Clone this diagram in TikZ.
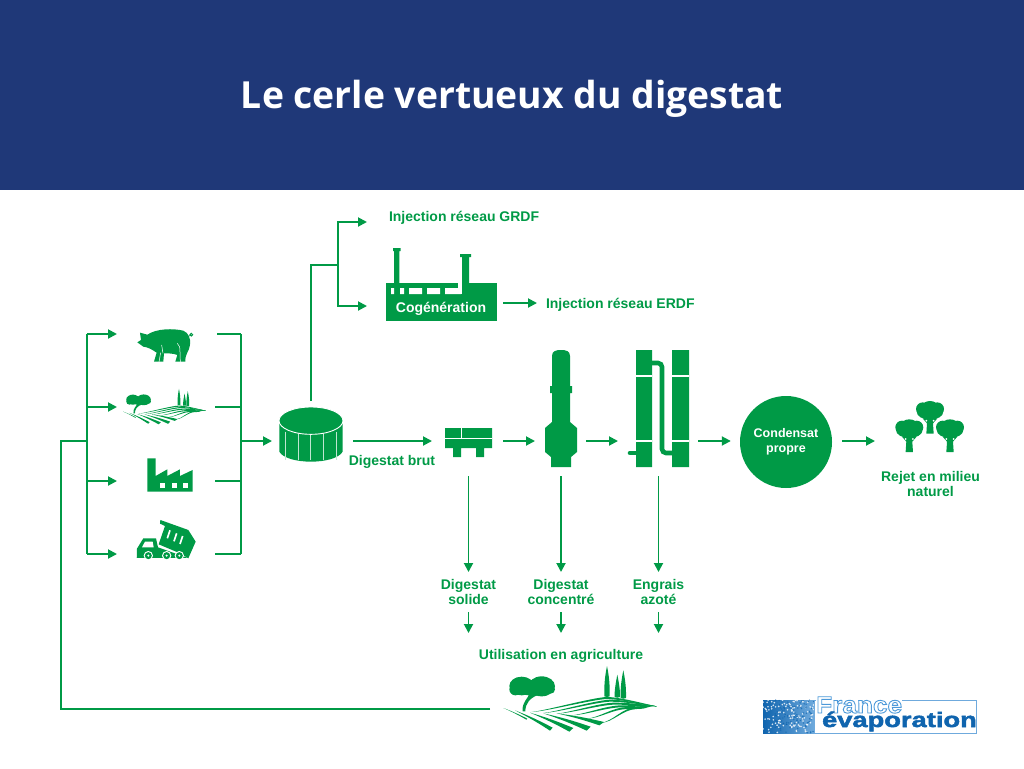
\documentclass[tikz,border=0pt]{standalone}
\usepackage{fontspec}
\setmainfont{Liberation Sans}
\newfontfamily\titlefont{Open Sans}
\newfontfamily\logoheavy[FakeBold=2.5,FakeStretch=1.3]{Liberation Sans Bold}
\newfontfamily\logolight[FakeStretch=1.11]{Liberation Sans Bold}
\usetikzlibrary{arrows.meta,positioning,calc}
\definecolor{digestGreen}{HTML}{009A46}
\definecolor{digestNavy}{HTML}{1F3878}
\definecolor{logoBlue}{HTML}{0F64AE}
\definecolor{logoLight}{HTML}{6FAADD}
\tikzset{
    pics/pigicon/.style={code={
        \fill[digestGreen] (232,97) -- (243,90) -- (240,68) -- (262,74) .. controls (290,55) and (340,55) .. (370,62)
            .. controls (385,68) and (393,85) .. (390,105) .. controls (388,125) and (375,130) .. (376,155)
            -- (346,155) -- (352,135) .. controls (340,130) and (325,130) .. (312,130) -- (310,155) -- (282,155)
            -- (290,128) .. controls (275,118) and (265,112) .. (250,110) -- cycle;
        \draw[white,line width=.5pt] (297,156) -- (302,128) (361,156) -- (360,125) .. controls (362,115) and (358,105) .. (352,100) (305,105) -- (309,130);
        \draw[digestGreen,line width=.8pt] (388,78) -- (394,74) circle[radius=4.5];
    }},
    pics/fieldicon/.style={code={
        \fill[digestGreen] (125,78) ellipse[x radius=37,y radius=28] (185,79) ellipse[x radius=40,y radius=30] (106,88) circle[radius=18] (150,92) ellipse[x radius=30,y radius=14] (212,88) circle[radius=13];
        \fill[digestGreen] (128,154) -- (136,154) .. controls (136,130) and (150,112) .. (178,104) -- (148,100) .. controls (146,115) and (125,125) .. cycle;
        \foreach \cx/\cy/\by in {381/18/109,412/44/111,430/31/114}
            \fill[digestGreen] (\cx,\cy) .. controls (\cx-5,\cy+25) and (\cx-9,\cy+50) .. (\cx-8,\by) .. controls (\cx-4,\by+3) and (\cx+4,\by+3) .. (\cx+8,\by) .. controls (\cx+9,\cy+50) and (\cx+5,\cy+25) .. (\cx,\cy);
        \foreach \sx/\sy/\mx/\my in {155/156/380/111,190/159/390/119,230/161/400/128,275/166/420/136,320/176/440/141,360/189/470/141}
            \fill[digestGreen] (\sx,\sy) .. controls (\sx+40,\sy-4) and (\mx-45,\my+2) .. (\mx,\my) .. controls (\mx+40,\my) and (500,133) .. (530,139)
                .. controls (500,136) and (\mx+40,\my+6) .. (\mx,\my+6) .. controls (\mx-45,\my+8) and (\sx+40,\sy-1) .. (\sx,\sy) -- cycle;
        \fill[digestGreen] (70,144) to[bend left=3] (142,176) -- (139,179) to[bend right=3] (70,144);
        \fill[digestGreen] (105,151) to[bend left=3] (218,203) -- (210,212) to[bend right=3] (105,151);
        \fill[digestGreen] (150,158) to[bend left=3] (280,204) -- (268,215) to[bend right=3] (150,158);
        \fill[digestGreen] (190,160) to[bend left=3] (332,200) -- (320,212) to[bend right=3] (190,160);
        \fill[digestGreen] (230,160) to[bend left=3] (372,186) -- (358,196) to[bend right=3] (230,160);
    }},
    pics/factoryicon/.style={code={
        \fill[digestGreen] (262,445) -- (287,445) -- (287,498) -- (322,478) -- (322,498) -- (360,478) -- (360,498) -- (398,480) -- (398,545) -- (262,545) -- cycle;
        \foreach \wx in {300,335,368}
            \fill[white] (\wx,520) rectangle +(16,15);
    }},
    pics/truckicon/.style={code={
        \fill[digestGreen] (231,740) -- (231,716) -- (250,685) -- (288,685) -- (294,712) -- (384,744) -- (230,744) -- cycle;
        \fill[white] (255,695) -- (278,695) -- (281,712) -- (246,712) -- cycle;
        \fill[digestGreen] (301,630) -- (385,660) -- (407,695) -- (385,745) -- (360,730) -- (296,703) -- (315,648) -- (300,641) -- cycle;
        \foreach \sx/\sy in {330/661,350/670,368/678}
            \draw[white,line width=1.7pt] (\sx,\sy) -- (\sx-8,\sy+24);
        \foreach \wx in {265,320,358}{
            \fill[white] (\wx,737) circle[radius=14];
            \fill[digestGreen] (\wx,737) circle[radius=10.5];
            \fill[white] (\wx,737) circle[radius=3.5];
        }
    }},
    pics/tankicon/.style={code={
        \fill[digestGreen] (658,332) -- (658,425) .. controls (680,465) and (826,465) .. (848,425) -- (848,332) -- cycle;
        \foreach \lx in {676,714,752,790,830}
            \draw[white!75!digestGreen,line width=.9pt] (\lx,365) -- (\lx,450);
        \fill[digestGreen,draw=white,line width=.9pt] (753,332) ellipse[x radius=96,y radius=41];
    }},
    pics/treeicon/.style={code={
        \fill[digestGreen] (-22,-8) circle[radius=20] (22,-8) circle[radius=20] (0,-16) ellipse[x radius=24,y radius=16] (0,0) ellipse[x radius=40,y radius=24];
        \fill[digestGreen] (-11,66) -- (-9,35) -- (-22,20) -- (22,20) -- (9,35) -- (11,66) -- cycle;
        \fill[white] (-11,27) circle[radius=3] (11,27) circle[radius=3];
    }}
}
\begin{document}
\begin{tikzpicture}[x=1pt,y=-1pt,
        pipe/.style={draw=digestGreen, line width=1.9pt},
        flow/.style={pipe, -{Triangle[length=9pt,width=9pt]}},
        spot/.style={inner sep=0pt, outer sep=0pt, minimum height=70pt},
        lbl/.style={text=digestGreen, font=\fontsize{14}{15}\selectfont\bfseries, align=center, inner sep=0pt, outer sep=0pt},
        equip/.style={fill=digestGreen}
    ]
        \useasboundingbox (0,0) rectangle (1024,768);
        \fill[digestNavy] (0,0) rectangle (1024,190);
        \node[text=white, font=\fontsize{37.3}{44}\selectfont\titlefont\bfseries, inner sep=0pt] (title) at (512,98.5) {Le cerle vertueux du digestat};

        % inputs
        \node[spot, minimum width=100pt] (pig) at (167,334) {};
        \node[spot, minimum width=98pt] (farm) at (166,407) {};
        \node[spot, minimum width=98pt] (plant) at (166,481) {};
        \node[spot, minimum width=98pt] (truck) at (166,554) {};
        \pic at (60,310) [scale=.3333] {pigicon};
        \pic at (110.4,385.6) [scale=.18] {fieldicon};
        \pic at (60,310) [scale=.3333] {factoryicon};
        \pic at (60,310) [scale=.3333] {truckicon};
        \coordinate (busl) at (87,441);
        \coordinate (busr) at (241,441);
        \foreach \src in {pig,farm,plant,truck}{
            \draw[flow] (busl |- \src.west) -- (\src.west);
            \draw[pipe] (\src.east) -- (busr |- \src.east);
        }
        \draw[pipe] (busl |- pig.west) -- (busl |- truck.west);
        \draw[pipe] (busr |- pig.east) -- (busr |- truck.east);

        % digester and gas side
        \node[spot, minimum width=81pt] (tank) at (312.5,441) {};
        \pic at (60,310) [scale=.3333] {tankicon};
        \draw[flow] (busr) -- (tank.west);
        \coordinate (tanktop) at (311,401);
        \coordinate (gasbus) at (338,265);
        \node[lbl, anchor=west] (grdf) at (389,218) {Injection réseau GRDF};
        \node[spot, minimum width=136pt, minimum height=20pt] (cogen) at (435,306) {};
        \node[lbl, anchor=west] (erdf) at (546,304.5) {Injection réseau ERDF};
        \coordinate (grdfin) at (367,222);
        \draw[pipe] (tanktop) |- (gasbus);
        \draw[flow] (gasbus) |- (grdfin);
        \draw[flow] (gasbus) |- (cogen.west);
        \fill[equip] (386,283) rectangle (497,321);
        \fill[equip] (394,250) rectangle (399.3,284) (393,248) rectangle (400.7,251);
        \fill[equip] (462,256) rectangle (469,284) (460,254) rectangle (471,257);
        \fill[white] (391,288) rectangle (394,294) (400,288) rectangle (404,294) (409,288) rectangle (422,294) (427,288) rectangle (440,294) (445,288) rectangle (461,294);
        \fill[white] (458,283) rectangle (462,294);
        \node[text=white, font=\fontsize{14}{16}\selectfont\bfseries, inner sep=0pt] (cogenlbl) at (441,309) {Cogénération};
        \coordinate (cogenout) at (503,303);
        \coordinate (erdfin) at (537,303);
        \draw[flow] (cogenout) -- (erdfin);

        % treatment line
        \node[spot, minimum width=71pt] (sep) at (467.5,441) {};
        \node[spot, minimum width=51pt] (evap) at (560.5,441) {};
        \node[spot, minimum width=80pt] (strip) at (658,441) {};
        \node[circle, fill=digestGreen, minimum size=92pt, inner sep=0pt, text=white, align=center, font=\fontsize{12.5}{15}\selectfont\bfseries] (cond) at (786,442) {\raisebox{-3.5pt}{Condensat}\\\raisebox{-3.5pt}{propre}};
        \node[spot, minimum width=100pt] (trees) at (925,441) {};
        \node[lbl, below=30.5pt of trees.center, xshift=5.5pt] (rejet) {Rejet en milieu\\naturel};
        \node[lbl] (brut) at (392,462) {Digestat brut};

        \coordinate (tankout) at (353,441);
        \draw[flow] (tankout) -- (sep.west);
        \draw[flow] (sep.east) -- (evap.west);
        \draw[flow] (evap.east) -- (strip.west);
        \draw[flow] (strip.east) -- ([xshift=-9pt]cond.west |- strip.east);
        \draw[flow] ([xshift=10pt]cond.east |- trees.west) -- (trees.west);

        % separator
        \fill[equip] (445,428) rectangle (492,448) (453,447) rectangle (461,457) (476,447) rectangle (484,457);
        \draw[white,line width=.9pt] (445,438) -- (492,438) (461,428) -- (461,438);
        % evaporator
        \fill[equip] (552,356) .. controls (552,351) and (556,350) .. (561,350) .. controls (566,350) and (570,351) .. (570,356) -- (570,386) -- (572,386) -- (572,393) -- (570,393) -- (570,422) -- (577,428) -- (577,452) -- (571,457) -- (571,467) -- (551,467) -- (551,457) -- (545,452) -- (545,428) -- (552,422) -- (552,393) -- (550,393) -- (550,386) -- (552,386) -- cycle;
        % stripping columns
        \fill[equip] (636,350) rectangle (652,467) (672,350) rectangle (689,467);
        \draw[white,line width=1.8pt] (636,376) -- (652,376) (672,376) -- (689,376) (636,441) -- (652,441) (672,441) -- (689,441);
        \draw[digestGreen,line width=4.6pt,rounded corners=4pt] (652,363) -- (662,363) -- (662,453) -- (672,453);
        \draw[digestGreen,line width=4.6pt,line cap=round] (630,453) -- (636,453);
        % trees
        \pic at (930,411.7) [scale=.3333] {treeicon};
        \pic at (909.3,430) [scale=.3333] {treeicon};
        \pic at (950,430) [scale=.3333] {treeicon};

        % products
        \node[lbl, minimum height=40pt] (solide) at (468.5,592) {Digestat\\solide};
        \node[lbl, minimum height=40pt] (conc) at (561,592) {Digestat\\concentré};
        \node[lbl, minimum height=40pt] (azote) at (658.5,592) {Engrais\\azoté};
        \node[lbl, minimum height=45pt] (agri) at (561,655.5) {Utilisation en agriculture};
        \coordinate (sepout) at (468.5,476);
        \coordinate (evapout) at (561,476);
        \coordinate (stripout) at (658.5,476);
        \draw[flow] (sepout) -- (solide.north);
        \draw[flow] (evapout) -- (conc.north);
        \draw[flow] (stripout) -- (azote.north);
        \draw[flow] (solide.south) -- (solide.south |- agri.north);
        \draw[flow] (conc.south) -- (agri.north);
        \draw[flow] (azote.south) -- (azote.south |- agri.north);
        \pic at (480,660) [scale=.3333] {fieldicon};

        % return to the inputs
        \coordinate (fieldout) at (490,709);
        \coordinate (loopup) at (61,441);
        \draw[pipe] (fieldout) -| (loopup) -- (busl);

        % logo
        \shade[left color=logoBlue, right color=logoLight] (763,700) rectangle (814,733);
        \pgfmathsetseed{11}
        \foreach \d in {1,...,110}{
            \pgfmathsetmacro{\dx}{763+51*rnd}
            \pgfmathsetmacro{\dy}{700+33*rnd}
            \fill[white, opacity=.8] (\dx,\dy) circle[radius=.9];
            \pgfmathsetmacro{\ex}{775+39*rnd}
            \pgfmathsetmacro{\ey}{700+33*rnd}
            \fill[logoBlue, opacity=.7] (\ex,\ey) circle[radius=.8];
        }
        \draw[logoLight, line width=1pt] (814,700) rectangle (976,733);
        \node[fill=white, text=logoLight, font=\fontsize{23.6}{24}\selectfont\logolight, inner sep=0pt, anchor=base west] (france) at (816,713) {\special{pdf:code 1 Tr 0.9 w 0.3 0.6 0.85 RG}France\special{pdf:code 0 Tr}};
        \node[text=logoBlue, font=\fontsize{21}{21}\selectfont\logoheavy, inner sep=0pt, anchor=base east] (evapo) at (977,727) {évaporation};
    \end{tikzpicture}
\end{document}
